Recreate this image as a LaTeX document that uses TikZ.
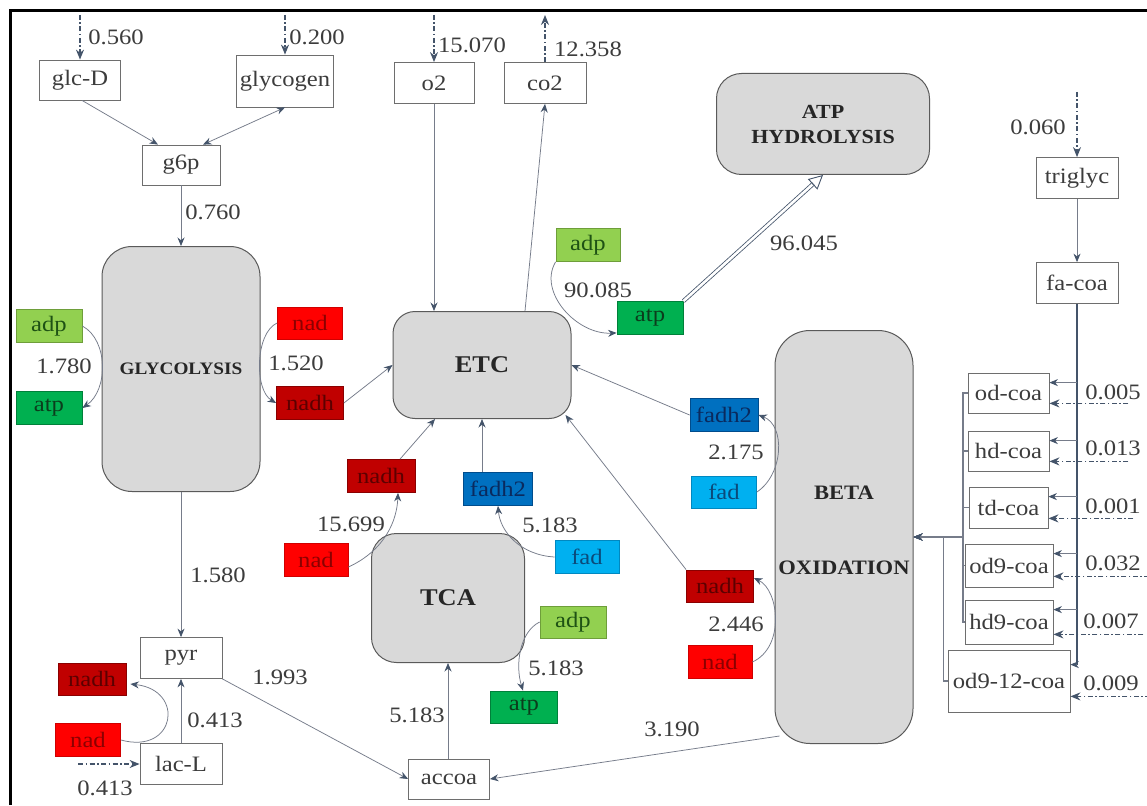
\documentclass[tikz,border=0pt]{standalone}
\usepackage{fontspec}
\setmainfont{Liberation Serif}
\newfontfamily\lblfont{Liberation Serif}[FakeStretch=1.12]
\newfontfamily\pwfont{Liberation Serif}[FakeStretch=1.1]
\usetikzlibrary{arrows.meta,calc}

\definecolor{metline}{HTML}{6E6E6E}
\definecolor{pwfill}{HTML}{D9D9D9}
\definecolor{pwline}{HTML}{5A5A5A}
\definecolor{conline}{HTML}{767C8A}
\definecolor{tipc}{HTML}{44546A}
\definecolor{numc}{HTML}{3C3C3C}
\definecolor{lgF}{HTML}{92D050}\definecolor{lgB}{HTML}{6E9E3A}\definecolor{lgT}{HTML}{1E5214}
\definecolor{gF}{HTML}{00B050}\definecolor{gB}{HTML}{00803A}\definecolor{gT}{HTML}{0B3D1C}
\definecolor{rF}{HTML}{FF0000}\definecolor{rB}{HTML}{D00000}\definecolor{rT}{HTML}{8C0000}
\definecolor{drF}{HTML}{C00000}\definecolor{drB}{HTML}{8A0000}\definecolor{drT}{HTML}{5C0000}
\definecolor{bF}{HTML}{0070C0}\definecolor{bB}{HTML}{004C8C}\definecolor{bT}{HTML}{0A2A5E}
\definecolor{lbF}{HTML}{00B0F0}\definecolor{lbB}{HTML}{0088C0}\definecolor{lbT}{HTML}{0B4A7A}

\begin{document}
\begin{tikzpicture}[x=1pt,y=-1pt,
  txt/.style={font=\lblfont\fontsize{22}{24}\selectfont},
  met/.style={draw=metline, fill=white, line width=0.8pt, inner sep=0pt, text=numc, txt},
  cof/.style={draw, line width=0.8pt, inner sep=0pt, minimum width=66pt, minimum height=33pt, txt},
  adpbox/.style={cof, fill=lgF, draw=lgB, text=lgT},
  atpbox/.style={cof, fill=gF, draw=gB, text=gT},
  nadbox/.style={cof, fill=rF, draw=rB, text=rT},
  nadhbox/.style={cof, fill=drF, draw=drB, text=drT},
  fadhbox/.style={cof, fill=bF, draw=bB, text=bT},
  fadbox/.style={cof, fill=lbF, draw=lbB, text=lbT},
  pw/.style={draw=pwline, fill=pwfill, line width=1pt, inner sep=0pt, align=center, text=black!85},
  num/.style={txt, text=numc, inner sep=0pt},
  con/.style={draw=conline, line width=0.75pt, -{Stealth[length=8.5pt,width=7pt,color=tipc]}},
  trunk/.style={draw=tipc, line width=1.4pt},
  coll/.style={draw=conline, line width=1.2pt, -{Stealth[length=9pt,width=7pt,color=tipc]}},
  inflow/.style={draw=tipc, line width=1.2pt, dash pattern=on 5pt off 2.5pt on 1.5pt off 2.5pt, -{Stealth[length=10pt,width=8pt]}},
]
\useasboundingbox (0,0) rectangle (1147,805);
\fill[white] (0,0) rectangle (1147,805);
% frame
\draw[line width=3pt] (10.5,805) -- (10.5,10.5) -- (1147,10.5);

% metabolites
\node[met, minimum width=81pt, minimum height=40pt] (glcD) at (80,80) {glc-D};
\node[met, minimum width=97pt, minimum height=52pt] (glycogen) at (285,81) {glycogen};
\node[met, minimum width=78pt, minimum height=40pt] (g6p) at (181,165) {g6p};
\node[met, minimum width=80pt, minimum height=41pt] (o2) at (434,83) {o2};
\node[met, minimum width=82pt, minimum height=41pt] (co2) at (545,83) {co2};
\node[met, minimum width=82pt, minimum height=41pt] (triglyc) at (1077,178) {triglyc};
\node[met, minimum width=82pt, minimum height=41pt] (facoa) at (1077,283) {fa-coa};
\node[met, minimum width=81pt, minimum height=40pt] (odcoa) at (1008.5,393) {od-coa};
\node[met, minimum width=81pt, minimum height=40pt] (hdcoa) at (1008.5,451) {hd-coa};
\node[met, minimum width=79pt, minimum height=41pt] (tdcoa) at (1008.5,507.5) {td-coa};
\node[met, minimum width=88pt, minimum height=43pt] (od9coa) at (1009,565.5) {od9-coa};
\node[met, minimum width=88pt, minimum height=44pt] (hd9coa) at (1009,622) {hd9-coa};
\node[met, minimum width=122pt, minimum height=62pt] (od912coa) at (1009,681) {od9-12-coa};
\node[met, minimum width=82pt, minimum height=41pt] (pyr) at (181,658) {pyr};
\node[met, minimum width=82pt, minimum height=41pt] (lacL) at (181,764) {lac-L};
\node[met, minimum width=81pt, minimum height=40pt] (accoa) at (449,779) {accoa};

% pathway blocks
\node[pw, rounded corners=30pt, minimum width=158pt, minimum height=245pt,
      font=\pwfont\bfseries\fontsize{17.5}{20}\selectfont] (glyc) at (181,369) {GLYCOLYSIS};
\node[pw, rounded corners=22pt, minimum width=178pt, minimum height=107pt,
      font=\pwfont\bfseries\fontsize{24}{26}\selectfont] (etc) at (482,365) {ETC};
\node[pw, rounded corners=25pt, minimum width=213pt, minimum height=101pt,
      font=\pwfont\bfseries\fontsize{20}{25}\selectfont] (hyd) at (823,124) {ATP\\HYDROLYSIS};
\node[pw, rounded corners=25pt, minimum width=153pt, minimum height=129pt,
      font=\pwfont\bfseries\fontsize{24}{26}\selectfont] (tca) at (448,598) {TCA};
\node[pw, rounded corners=35pt, minimum width=138pt, minimum height=413pt,
      font=\pwfont\bfseries\fontsize{20.5}{24}\selectfont] (beta) at (844,537)
      {BETA\\[51pt]OXIDATION\rule[-13pt]{0pt}{13pt}};

% cofactors
\node[adpbox] (adpG) at (49,326) {adp};
\node[atpbox] (atpG) at (49,408) {atp};
\node[nadbox, minimum width=65pt, minimum height=32pt] (nadG) at (310,323) {nad};
\node[nadhbox, minimum width=67pt] (nadhG) at (310,403) {nadh};
\node[adpbox, minimum width=64pt] (adpE) at (588,245) {adp};
\node[atpbox] (atpE) at (650,318) {atp};
\node[fadhbox, minimum width=68pt] (fadhR) at (724,415) {fadh2};
\node[fadbox, minimum width=65pt, minimum height=32pt] (fadR) at (724,492) {fad};
\node[nadhbox, minimum width=68pt] (nadhT) at (381,476) {nadh};
\node[nadbox, minimum width=64pt] (nadT) at (316,560) {nad};
\node[fadhbox, minimum width=69pt] (fadhT) at (498,489) {fadh2};
\node[fadbox, minimum width=64pt] (fadT) at (587,557) {fad};
\node[adpbox, minimum height=32pt] (adpT) at (573,622) {adp};
\node[atpbox, minimum width=67pt, minimum height=32pt] (atpT) at (524,707) {atp};
\node[nadhbox, minimum width=67pt, minimum height=32pt] (nadhB) at (720,586) {nadh};
\node[nadbox, minimum width=64pt] (nadB) at (720,662) {nad};
\node[nadhbox, minimum width=68pt, minimum height=32pt] (nadhL) at (92,679) {nadh};
\node[nadbox, minimum width=65pt] (nadL) at (88,740) {nad};

% exchange fluxes
\coordinate (topin) at (80,15);
\coordinate (inTg) at (1077,92);
\coordinate (inLac) at (78,764);
\draw[inflow] (topin) -- (glcD.north);
\draw[inflow] (glycogen.north |- topin) -- (glycogen.north);
\draw[inflow] (o2.north |- topin) -- (o2.north);
\draw[inflow] (co2.north) -- (co2.north |- topin);
\draw[inflow] (inTg) -- (triglyc.north);
\draw[inflow] (inLac) -- (lacL.west);

\node[num] (l560) at (116,37) {0.560};
\node[num] (l200) at (317,37) {0.200};
\node[num] (l15070) at (472,45) {15.070};
\node[num] (l12358) at (588,49) {12.358};
\node[num] (l060) at (1038,127) {0.060};
\node[num] (l413b) at (105,788) {0.413};

% glycolysis
\draw[con] ([xshift=2pt]glcD.south) -- ([xshift=-23pt]g6p.north);
\draw[con, {Stealth[length=8.5pt,width=7pt,color=tipc]}-{Stealth[length=8.5pt,width=7pt,color=tipc]}]
  ([xshift=22pt]g6p.north) -- (glycogen.south);
\draw[con] (g6p.south) -- (glyc.north);
\node[num] (l760) at (213,212) {0.760};
\draw[con] (adpG.east) .. controls +(26,14) and +(26,-18) .. (atpG.east);
\node[num] (l1780) at (64,366) {1.780};
\draw[con] (nadG.west) .. controls +(-22,10) and +(-22,-13) .. (nadhG.west);
\node[num] (l1520) at (296,363) {1.520};
\draw[con] (glyc.south) -- (pyr.north);
\node[num] (l1580) at (218,575) {1.580};
\draw[con] (lacL.north) -- (pyr.south);
\node[num] (l413) at (215,720) {0.413};
\draw[con] (nadL.east) .. controls +(55,15) and +(55,6) .. ([shift={(4,5)}]nadhL.east);
\draw[con] (pyr.south east) -- (accoa.west);
\node[num] (l1993) at (280,677) {1.993};

% TCA cycle
\draw[con] (accoa.north -| tca.south) -- (tca.south);
\node[num] (l5183a) at (417,715) {5.183};
\draw[con] ([yshift=-7pt]nadT.east) .. controls +(37,-17) and +(-1,27) .. ([xshift=17pt]nadhT.south);
\node[num] (l15699) at (351,524) {15.699};
\draw[con] (fadT.west) .. controls +(-35,-2) and +(2,25) .. (fadhT.south);
\node[num] (l5183b) at (550,525) {5.183};
\draw[con] (adpT.west) .. controls +(-20,10) and +(-8,-26) .. ([xshift=-1pt]atpT.north);
\node[num] (l5183c) at (556,668) {5.183};

% electron transport chain
\draw[con] (o2.south) -- (o2.south |- etc.north);
\draw[con] ([xshift=43pt]etc.north) -- (co2.south);
\draw[con] (nadhG.east) -- (etc.west);
\draw[con] ([xshift=19pt]nadhT.north) -- ([xshift=-47pt]etc.south);
\draw[con] (fadhT.north -| etc.south) -- (etc.south);
\draw[con] (nadhB.north west) -- ([shift={(-6,-4)}]etc.south east);
\draw[con] (fadhR.west) -- (etc.east);
\draw[con] (fadR.east) .. controls +(27,-18) and +(27,10) .. (fadhR.east);
\node[num] (l2175) at (736,452) {2.175};
\draw[con] (adpE.south west) .. controls +(-18,30) and +(-40,2) .. ([yshift=2pt]atpE.south west);
\node[num] (l90085) at (598,290) {90.085};

% ATP hydrolysis
\draw[draw=tipc, line width=0.8pt, double=white, double distance=2.6pt, shorten >=13pt]
  (atpE.north east) -- (hyd.south);
\draw[draw=tipc, line width=0.9pt, -{Triangle[open,length=14pt,width=14pt]}]
  ($(hyd.south)!14pt!(atpE.north east)$) -- (hyd.south);
\node[num] (l96045) at (804,243) {96.045};

% beta oxidation
\draw[con] ([shift={(5,-8)}]beta.south west) -- (accoa.east);
\node[num] (l3190) at (672,729) {3.190};
\draw[con] (nadB.east) .. controls +(33,-15) and +(25,12) .. ([yshift=8pt]nadhB.east);
\node[num] (l2446) at (736,624) {2.446};

% fatty acyl-CoA supply
\draw[con] (triglyc.south) -- (facoa.north);
\coordinate (b1) at ($(odcoa.north east)+(0,10)$);
\coordinate (b2) at ($(hdcoa.north east)+(0,10)$);
\coordinate (b3) at ($(tdcoa.north east)+(0,10)$);
\coordinate (b4) at ($(od9coa.north east)+(0,10)$);
\coordinate (b5) at ($(hd9coa.north east)+(0,10)$);
\coordinate (b6) at ($(od912coa.north east)+(0,15)$);
\draw[trunk] (facoa.south) -- (facoa.south |- b6);
\foreach \b in {b1,b2,b3,b4,b5,b6} \draw[con] (facoa.south |- \b) -- (\b);

\coordinate (i1) at ($(odcoa.south east)+(0,-10)$);
\coordinate (i2) at ($(hdcoa.south east)+(0,-10)$);
\coordinate (i3) at ($(tdcoa.south east)+(0,-10)$);
\coordinate (i4) at ($(od9coa.south east)+(0,-11)$);
\coordinate (i5) at ($(hd9coa.south east)+(0,-10)$);
\coordinate (i6) at ($(od912coa.south east)+(0,-16)$);
\draw[inflow] ([xshift=79pt]i1) -- (i1);
\draw[inflow] ([xshift=79pt]i2) -- (i2);
\draw[inflow] ([xshift=85pt]i3) -- (i3);
\draw[inflow] ([xshift=96pt]i4) -- (i4);
\draw[inflow] ([xshift=90pt]i5) -- (i5);
\draw[inflow] ([xshift=80pt]i6) -- (i6);
\node[num] (c1) at (1113,392) {0.005};
\node[num] (c2) at (1113,448) {0.013};
\node[num] (c3) at (1113,506) {0.001};
\node[num] (c4) at (1113,563) {0.032};
\node[num] (c5) at (1111,621) {0.007};
\node[num] (c6) at (1111,683) {0.009};

\coordinate (bj) at (963,537);
\coordinate (bj2) at (943.5,537);
\draw[coll] (odcoa.west) -| (bj) -- (beta.east);
\draw[coll] (hdcoa.west) -| (bj) -- (beta.east);
\draw[coll] (tdcoa.west) -| (bj) -- (beta.east);
\draw[coll] (od9coa.west) -| (bj) -- (beta.east);
\draw[coll] (hd9coa.west) -| (bj) -- (beta.east);
\draw[coll] (od912coa.west) -| (bj2) -- (beta.east);
\end{tikzpicture}
\end{document}
